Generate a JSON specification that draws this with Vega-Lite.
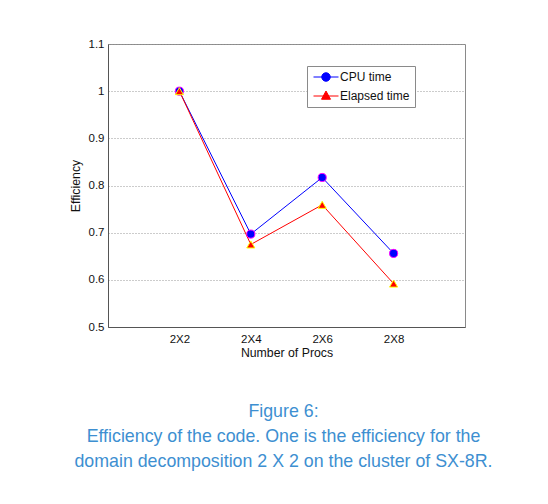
{
  "$schema": "https://vega.github.io/schema/vega-lite/v6.json",
  "width": 357,
  "height": 283,
  "autosize": {"type": "none"},
  "padding": {"left": 108, "top": 44, "right": 83, "bottom": 177},
  "background": "white",
  "config": {
    "font": "Liberation Sans",
    "view": {"stroke": "#8a8a8a", "strokeWidth": 1},
    "axis": {"labelFont": "Liberation Sans", "titleFont": "Liberation Sans", "labelColor": "#111", "titleColor": "#111", "titleFontWeight": "normal"}
  },
  "title": {
    "text": ["Figure 6:", "Efficiency of the code. One is the efficiency for the", "domain decomposition 2 X 2 on the cluster of SX-8R."],
    "orient": "bottom",
    "anchor": "middle",
    "frame": "group",
    "offset": 44,
    "dx": -3,
    "fontSize": 17.8,
    "lineHeight": 25,
    "fontWeight": "normal",
    "color": "#3d8fd1",
    "font": "Liberation Sans"
  },
  "data": {
    "values": [
      {"proc": "2X2", "series": "CPU time", "eff": 1.0},
      {"proc": "2X4", "series": "CPU time", "eff": 0.697},
      {"proc": "2X6", "series": "CPU time", "eff": 0.817},
      {"proc": "2X8", "series": "CPU time", "eff": 0.656},
      {"proc": "2X2", "series": "Elapsed time", "eff": 1.0},
      {"proc": "2X4", "series": "Elapsed time", "eff": 0.675},
      {"proc": "2X6", "series": "Elapsed time", "eff": 0.759},
      {"proc": "2X8", "series": "Elapsed time", "eff": 0.592}
    ]
  },
  "encoding": {
    "x": {
      "field": "proc", "type": "nominal",
      "scale": {"type": "point", "padding": 1, "domain": ["2X2", "2X4", "2X6", "2X8"]},
      "axis": {"title": "Number of Procs", "labelAngle": 0, "ticks": false, "grid": false, "domainColor": "#555", "labelFontSize": 11.5, "labelPadding": 6, "titleFontSize": 12.3, "titlePadding": 2}
    },
    "y": {
      "field": "eff", "type": "quantitative",
      "scale": {"domain": [0.5, 1.1], "nice": false, "zero": false},
      "axis": {"title": "Efficiency", "values": [0.5, 0.6, 0.7, 0.8, 0.9, 1.0, 1.1], "format": ".1~f", "ticks": false, "grid": true, "gridDash": [1, 2], "gridColor": "#999", "domainColor": "#555", "labelFontSize": 11.5, "labelPadding": 4, "titleFontSize": 12.3, "titlePadding": 6}
    }
  },
  "layer": [
    {
      "mark": {"type": "line", "strokeWidth": 1},
      "encoding": {
        "color": {
          "field": "series", "type": "nominal",
          "scale": {"domain": ["CPU time", "Elapsed time"], "range": ["#0000ff", "#ff0000"]},
          "legend": {
            "title": null,
            "orient": "none",
            "legendX": 199,
            "legendY": 22,
            "direction": "vertical",
            "padding": 5,
            "strokeColor": "#8a8a8a",
            "fillColor": "white",
            "labelFontSize": 12,
            "labelColor": "#111",
            "labelFont": "Liberation Sans",
            "labelOffset": 8,
            "symbolOffset": 8,
            "symbolSize": 100,
            "symbolStrokeWidth": 1,
            "rowPadding": 5,
            "encode": {
              "symbols": {
                "update": {
                  "shape": {"signal": "datum.value === 'CPU time' ? 'M-2.5,0H2.5M-0.85,0A0.85,0.85 0 1,1 0.85,0A0.85,0.85 0 1,1 -0.85,0Z' : 'M-2.5,0H2.5M0,-1L0.9,0.65L-0.9,0.65Z'"},
                  "fill": {"signal": "datum.value === 'CPU time' ? '#0000ff' : '#ff0000'"},
                  "stroke": {"signal": "datum.value === 'CPU time' ? '#0000ff' : '#ff0000'"},
                  "strokeWidth": {"value": 1},
                  "opacity": {"value": 1}
                }
              }
            }
          }
        }
      }
    },
    {
      "transform": [{"filter": "datum.series === 'CPU time'"}],
      "mark": {"type": "point", "shape": "circle", "filled": true, "size": 66, "strokeWidth": 1, "opacity": 1, "fill": "#0000ff", "stroke": "#ff00ff"}
    },
    {
      "transform": [{"filter": "datum.series === 'Elapsed time'"}],
      "mark": {"type": "point", "shape": "triangle-up", "filled": true, "size": 66, "strokeWidth": 1, "opacity": 1, "fill": "#ff0000", "stroke": "#ffff00"}
    }
  ]
}
